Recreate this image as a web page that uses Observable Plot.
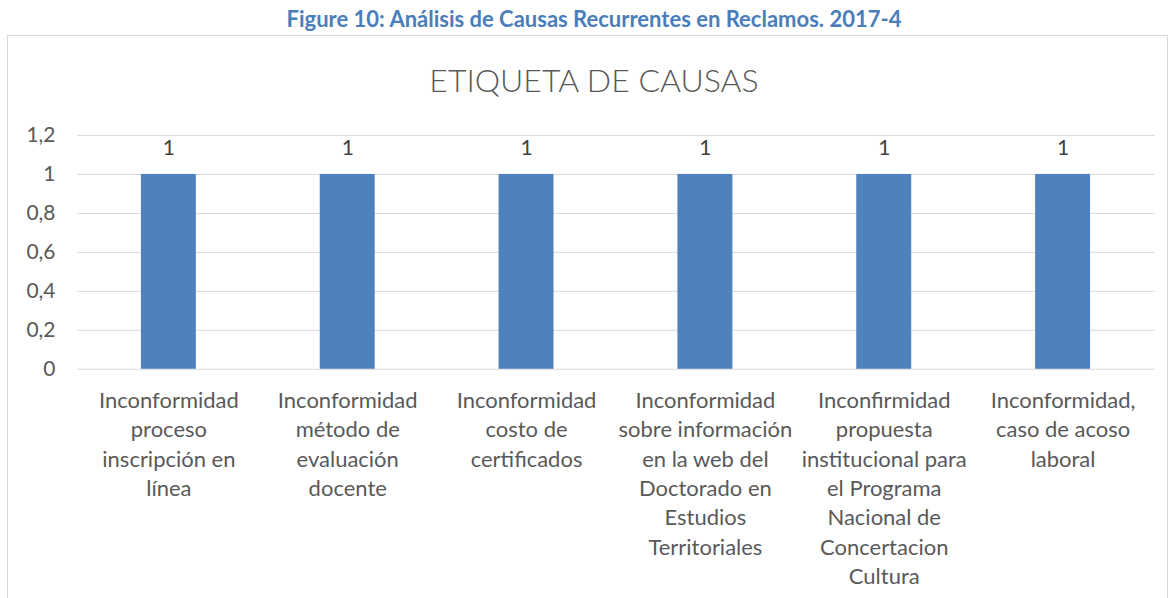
<!DOCTYPE html>
<html><head><meta charset="utf-8">
<script src="https://cdn.jsdelivr.net/npm/d3@7"></script>
<script src="https://cdn.jsdelivr.net/npm/@observablehq/plot@0.6"></script>
<style>
html,body{margin:0;padding:0;background:#fff;overflow:hidden;width:1170px;height:598px;}
#fig{height:35px;line-height:38px;text-align:center;padding-left:18px;box-sizing:border-box;font-family:Lato,"Open Sans",sans-serif;font-weight:bold;font-size:22px;color:#4a7ebb;}
#box{position:absolute;left:7px;top:35px;width:1161px;height:600px;border:1px solid #d9d9d9;box-sizing:border-box;}
#ctitle{position:absolute;left:0;width:1160px;top:24px;padding-left:12px;box-sizing:border-box;text-align:center;font-family:Lato,sans-serif;font-weight:300;font-size:32px;color:#595959;}
#chart{position:absolute;left:0;top:74px;}
</style></head>
<body>
<div id="fig">Figure 10: Análisis de Causas Recurrentes en Reclamos. 2017-4</div>
<div id="box"><div id="ctitle">ETIQUETA DE CAUSAS</div><div id="chart"></div></div>
<script>
const categories = [
  "Inconformidad proceso inscripción en línea",
  "Inconformidad método de evaluación docente",
  "Inconformidad costo de certificados",
  "Inconformidad sobre información en la web del Doctorado en Estudios Territoriales",
  "Inconfirmidad propuesta institucional para el Programa Nacional de Concertacion Cultura",
  "Inconformidad, caso de acoso laboral"
];
const values = [1, 1, 1, 1, 1, 1];
const tickLabels = [
  "Inconformidad\nproceso\ninscripción en\nlínea",
  "Inconformidad\nmétodo de\nevaluación\ndocente",
  "Inconformidad\ncosto de\ncertificados",
  "Inconformidad\nsobre información\nen la web del\nDoctorado en\nEstudios\nTerritoriales",
  "Inconfirmidad\npropuesta\ninstitucional para\nel Programa\nNacional de\nConcertacion\nCultura",
  "Inconformidad,\ncaso de acoso\nlaboral"
];
const yTicks = [0, 0.2, 0.4, 0.6, 0.8, 1, 1.2];

const data = categories.map((c, i) => ({cat: c, value: values[i]}));
const labelOf = new Map(categories.map((c, i) => [c, tickLabels[i]]));
const fmt = v => String(v).replace(".", ",");

const chart = Plot.plot({
  width: 1160,
  height: 490,
  marginTop: 25,
  marginLeft: 69,
  marginRight: 12,
  marginBottom: 231,
  style: {fontFamily: "Lato, sans-serif", color: "#595959", background: "transparent"},
  x: {domain: categories, paddingInner: 0.69, paddingOuter: 0.345, label: null},
  y: {domain: [0, 1.2], label: null},
  marks: [
    Plot.gridY(yTicks, {stroke: "#d9d9d9", strokeOpacity: 1, strokeWidth: 1}),
    Plot.barY(data, {x: "cat", y: "value", fill: "#4f81bd"}),
    Plot.text(data, {x: "cat", y: "value", text: d => fmt(d.value), dy: -26, fontSize: 21, fill: "#404040"}),
    Plot.axisY(yTicks, {tickSize: 0, tickPadding: 22, tickFormat: fmt, fontSize: 21, fill: "#595959", label: null}),
    Plot.axisX({tickSize: 0, tickPadding: 18, tickFormat: c => labelOf.get(c), fontSize: 22, lineHeight: 1.335, fill: "#595959", label: null})
  ]
});
document.getElementById("chart").appendChild(chart);
</script>
</body></html>
